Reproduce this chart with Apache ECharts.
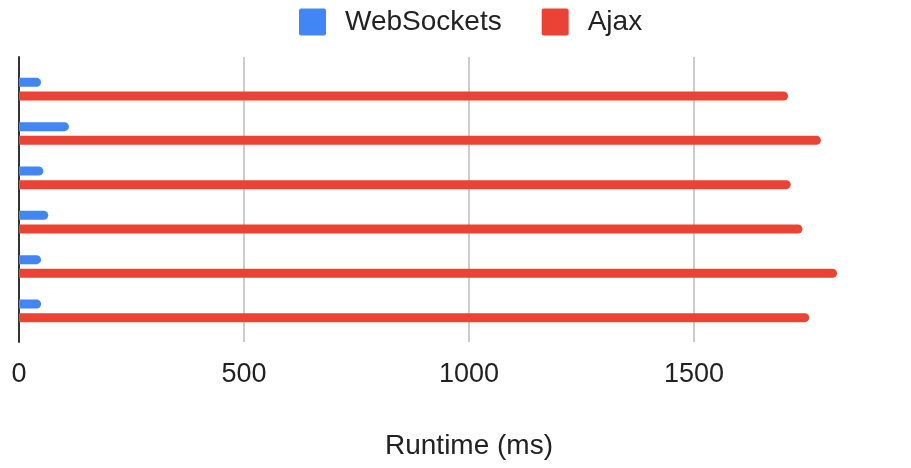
<!DOCTYPE html>
<html>
<head>
<meta charset="utf-8">
<script src="https://cdn.jsdelivr.net/npm/echarts@6/dist/echarts.min.js"></script>
<style>
html,body{margin:0;padding:0;background:#fff;}
#chart{width:911px;height:468px;}
</style>
</head>
<body>
<div id="chart"></div>
<script>
const categories = ['Run 1', 'Run 2', 'Run 3', 'Run 4', 'Run 5', 'Run 6'];
const seriesNames = ['WebSockets', 'Ajax'];
const webSocketsValues = [49, 111, 54, 65, 49, 49];
const ajaxValues = [1709, 1782, 1715, 1741, 1818, 1756];
const xTicks = [0, 500, 1000, 1500, 2000];
const axisTitle = 'Runtime (ms)';

const FONT = '"Liberation Sans", Arial, sans-serif';
const chart = echarts.init(document.getElementById('chart'), null, {renderer: 'canvas'});
const xMin = xTicks[0], xMax = xTicks[xTicks.length - 1], xInt = xTicks[1] - xTicks[0];
const squareIcon = 'path://M2,0 H25 A2,2 0 0 1 27,2 V25 A2,2 0 0 1 25,27 H2 A2,2 0 0 1 0,25 V2 A2,2 0 0 1 2,0 Z';

chart.setOption({
  animation: false,
  backgroundColor: '#ffffff',
  legend: {
    data: seriesNames,
    left: 299,
    top: 8,
    padding: 0,
    itemWidth: 27,
    itemHeight: 27,
    itemGap: 40,
    icon: squareIcon,
    textStyle: {fontSize: 28, color: '#222222', fontFamily: FONT, padding: [0, 0, 0, 14]}
  },
  grid: [
    {left: 19, top: 57, width: 900, height: 285, outerBoundsMode: 'none', containLabel: false},
    {left: 19, top: 67, width: 900, height: 266, outerBoundsMode: 'none', containLabel: false}
  ],
  xAxis: [
    {
      gridIndex: 0, type: 'value', min: xMin, max: xMax, interval: xInt,
      axisLine: {show: false}, axisTick: {show: false},
      splitLine: {show: true, lineStyle: {color: '#cccccc', width: 2}},
      axisLabel: {fontSize: 27, color: '#222222', fontFamily: FONT, margin: 19,
        showMaxLabel: false, formatter: v => String(v)},
      name: axisTitle, nameLocation: 'middle', nameGap: 90,
      nameTextStyle: {fontSize: 28, color: '#222222', fontFamily: FONT}
    },
    {
      gridIndex: 1, type: 'value', min: xMin, max: xMax, interval: xInt, show: false
    }
  ],
  yAxis: [
    {
      gridIndex: 0, type: 'value', min: 0, max: 1,
      axisLine: {show: true, lineStyle: {color: '#333333', width: 2}},
      axisTick: {show: false}, axisLabel: {show: false}, splitLine: {show: false}
    },
    {
      gridIndex: 1, type: 'category', data: categories, inverse: true, show: false
    }
  ],
  series: [
    {
      name: seriesNames[0], type: 'bar', xAxisIndex: 1, yAxisIndex: 1,
      data: webSocketsValues, barWidth: 9, barGap: '52%',
      itemStyle: {color: '#4285F4', borderRadius: [0, 4.5, 4.5, 0]}, z: 3
    },
    {
      name: seriesNames[1], type: 'bar', xAxisIndex: 1, yAxisIndex: 1,
      data: ajaxValues, barWidth: 9, barGap: '52%',
      itemStyle: {color: '#EA4335', borderRadius: [0, 4.5, 4.5, 0]}, z: 3
    }
  ]
});
</script>
</body>
</html>
